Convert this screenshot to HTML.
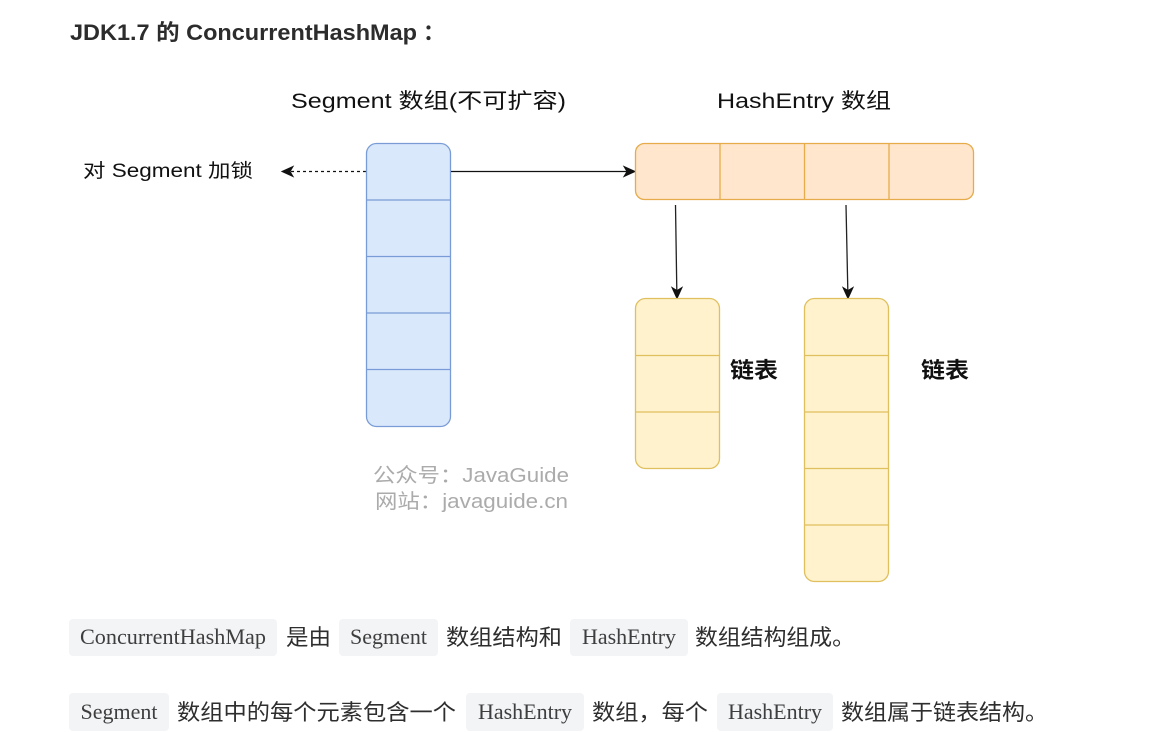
<!DOCTYPE html>
<html>
<head>
<meta charset="utf-8">
<style>
  html,body{margin:0;padding:0;background:#fff;}
  body{width:1176px;height:732px;overflow:hidden;}
  svg{display:block;}
  .sans{font-family:"Liberation Sans","Noto Sans CJK SC",sans-serif;}
  .serif{font-family:"Liberation Serif","Noto Serif CJK SC",serif;}
  .cjk{font-family:"Liberation Sans","Noto Sans CJK SC",sans-serif;}
</style>
</head>
<body>
<svg width="1176" height="732" viewBox="0 0 1176 732" xmlns="http://www.w3.org/2000/svg">
  <!-- Title -->
  <text x="70" y="40" class="sans" font-size="22" font-weight="bold" fill="#2c2c2c" textLength="347" lengthAdjust="spacingAndGlyphs">JDK1.7 的 ConcurrentHashMap</text>
  <text x="423" y="40" class="sans" font-size="22" font-weight="bold" fill="#2c2c2c">：</text>

  <!-- Diagram headings -->
  <text x="291" y="108" class="sans" font-size="21" fill="#111" textLength="275" lengthAdjust="spacingAndGlyphs">Segment 数组(不可扩容)</text>
  <text x="717" y="108" class="sans" font-size="21" fill="#111" textLength="174" lengthAdjust="spacingAndGlyphs">HashEntry 数组</text>

  <!-- Lock label -->
  <text x="83" y="177" class="sans" font-size="19" fill="#111" textLength="170" lengthAdjust="spacingAndGlyphs">对 Segment 加锁</text>

  <!-- Dashed arrow -->
  <line x1="366" y1="171.5" x2="291" y2="171.5" stroke="#111" stroke-width="1.3" stroke-dasharray="3,3"/>
  <path d="M282,171.5 L293,166.5 L290,171.5 L293,176.5 Z" fill="#111" stroke="#111" stroke-width="1"/>

  <!-- Segment array (blue) -->
  <rect x="366.5" y="143.5" width="84" height="283" rx="10" ry="10" fill="#dae8fc" stroke="#7a9cd6" stroke-width="1.3"/>
  <line x1="366.5" y1="200" x2="450.5" y2="200" stroke="#7a9cd6" stroke-width="1.3"/>
  <line x1="366.5" y1="256.5" x2="450.5" y2="256.5" stroke="#7a9cd6" stroke-width="1.3"/>
  <line x1="366.5" y1="313" x2="450.5" y2="313" stroke="#7a9cd6" stroke-width="1.3"/>
  <line x1="366.5" y1="369.5" x2="450.5" y2="369.5" stroke="#7a9cd6" stroke-width="1.3"/>

  <!-- Solid arrow to HashEntry -->
  <line x1="451" y1="171.5" x2="627" y2="171.5" stroke="#111" stroke-width="1.3"/>
  <path d="M635,171.5 L624,166.5 L627,171.5 L624,176.5 Z" fill="#111" stroke="#111" stroke-width="1"/>

  <!-- HashEntry array (orange) -->
  <rect x="635.5" y="143.5" width="338" height="56" rx="9" ry="9" fill="#ffe6cc" stroke="#e6ab4a" stroke-width="1.3"/>
  <line x1="720" y1="143.5" x2="720" y2="199.5" stroke="#e6ab4a" stroke-width="1.3"/>
  <line x1="804.5" y1="143.5" x2="804.5" y2="199.5" stroke="#e6ab4a" stroke-width="1.3"/>
  <line x1="889" y1="143.5" x2="889" y2="199.5" stroke="#e6ab4a" stroke-width="1.3"/>

  <!-- Down arrows -->
  <line x1="675.5" y1="205" x2="676.8" y2="290" stroke="#222" stroke-width="1.3"/>
  <path d="M677,298.5 L672,287.5 L677,290.5 L682,287.5 Z" fill="#111" stroke="#111" stroke-width="1"/>
  <line x1="846" y1="205" x2="847.8" y2="290" stroke="#222" stroke-width="1.3"/>
  <path d="M848,298.5 L843,287.5 L848,290.5 L853,287.5 Z" fill="#111" stroke="#111" stroke-width="1"/>

  <!-- List 1 -->
  <rect x="635.5" y="298.5" width="84" height="170" rx="10" ry="10" fill="#fff2cc" stroke="#dfbf5e" stroke-width="1.3"/>
  <line x1="635.5" y1="355.5" x2="719.5" y2="355.5" stroke="#dfbf5e" stroke-width="1.3"/>
  <line x1="635.5" y1="412" x2="719.5" y2="412" stroke="#dfbf5e" stroke-width="1.3"/>

  <!-- List 2 -->
  <rect x="804.5" y="298.5" width="84" height="283" rx="10" ry="10" fill="#fff2cc" stroke="#dfbf5e" stroke-width="1.3"/>
  <line x1="804.5" y1="355.5" x2="888.5" y2="355.5" stroke="#dfbf5e" stroke-width="1.3"/>
  <line x1="804.5" y1="412" x2="888.5" y2="412" stroke="#dfbf5e" stroke-width="1.3"/>
  <line x1="804.5" y1="468.5" x2="888.5" y2="468.5" stroke="#dfbf5e" stroke-width="1.3"/>
  <line x1="804.5" y1="525" x2="888.5" y2="525" stroke="#dfbf5e" stroke-width="1.3"/>

  <!-- 链表 labels -->
  <text x="730" y="378" class="cjk" font-size="22" font-weight="bold" fill="#111" textLength="48" lengthAdjust="spacingAndGlyphs">链表</text>
  <text x="921" y="378" class="cjk" font-size="22" font-weight="bold" fill="#111" textLength="48" lengthAdjust="spacingAndGlyphs">链表</text>

  <!-- Watermark -->
  <text x="373" y="482" class="sans" font-size="20" fill="#ababab" textLength="196" lengthAdjust="spacingAndGlyphs">公众号：JavaGuide</text>
  <text x="375" y="508" class="sans" font-size="20" fill="#ababab" textLength="193" lengthAdjust="spacingAndGlyphs">网站：javaguide.cn</text>

  <!-- Paragraph 1 -->
  <rect x="69" y="619" width="208" height="37" rx="4" fill="#f3f4f6"/>
  <text x="173" y="644" text-anchor="middle" class="serif" font-size="22" fill="#3e3e3e" textLength="186" lengthAdjust="spacingAndGlyphs">ConcurrentHashMap</text>
  <text x="286" y="645" class="cjk" font-size="22" fill="#2e2e2e" textLength="45" lengthAdjust="spacingAndGlyphs">是由</text>
  <rect x="339" y="619" width="99" height="37" rx="4" fill="#f3f4f6"/>
  <text x="388.5" y="644" text-anchor="middle" class="serif" font-size="22" fill="#3e3e3e" textLength="77" lengthAdjust="spacingAndGlyphs">Segment</text>
  <text x="446" y="645" class="cjk" font-size="22" fill="#2e2e2e" textLength="116" lengthAdjust="spacingAndGlyphs">数组结构和</text>
  <rect x="570" y="619" width="118" height="37" rx="4" fill="#f3f4f6"/>
  <text x="629" y="644" text-anchor="middle" class="serif" font-size="22" fill="#3e3e3e" textLength="94" lengthAdjust="spacingAndGlyphs">HashEntry</text>
  <text x="695" y="645" class="cjk" font-size="22" fill="#2e2e2e" textLength="160" lengthAdjust="spacingAndGlyphs">数组结构组成。</text>

  <!-- Paragraph 2 -->
  <rect x="69" y="693" width="100" height="38" rx="4" fill="#f3f4f6"/>
  <text x="119" y="719" text-anchor="middle" class="serif" font-size="22" fill="#3e3e3e" textLength="77" lengthAdjust="spacingAndGlyphs">Segment</text>
  <text x="177" y="720" class="cjk" font-size="22" fill="#2e2e2e" textLength="279" lengthAdjust="spacingAndGlyphs">数组中的每个元素包含一个</text>
  <rect x="466" y="693" width="118" height="38" rx="4" fill="#f3f4f6"/>
  <text x="525" y="719" text-anchor="middle" class="serif" font-size="22" fill="#3e3e3e" textLength="94" lengthAdjust="spacingAndGlyphs">HashEntry</text>
  <text x="592" y="720" class="cjk" font-size="22" fill="#2e2e2e" textLength="116" lengthAdjust="spacingAndGlyphs">数组，每个</text>
  <rect x="717" y="693" width="116" height="38" rx="4" fill="#f3f4f6"/>
  <text x="775" y="719" text-anchor="middle" class="serif" font-size="22" fill="#3e3e3e" textLength="94" lengthAdjust="spacingAndGlyphs">HashEntry</text>
  <text x="841" y="720" class="cjk" font-size="22" fill="#2e2e2e" textLength="207" lengthAdjust="spacingAndGlyphs">数组属于链表结构。</text>
</svg>
</body>
</html>
